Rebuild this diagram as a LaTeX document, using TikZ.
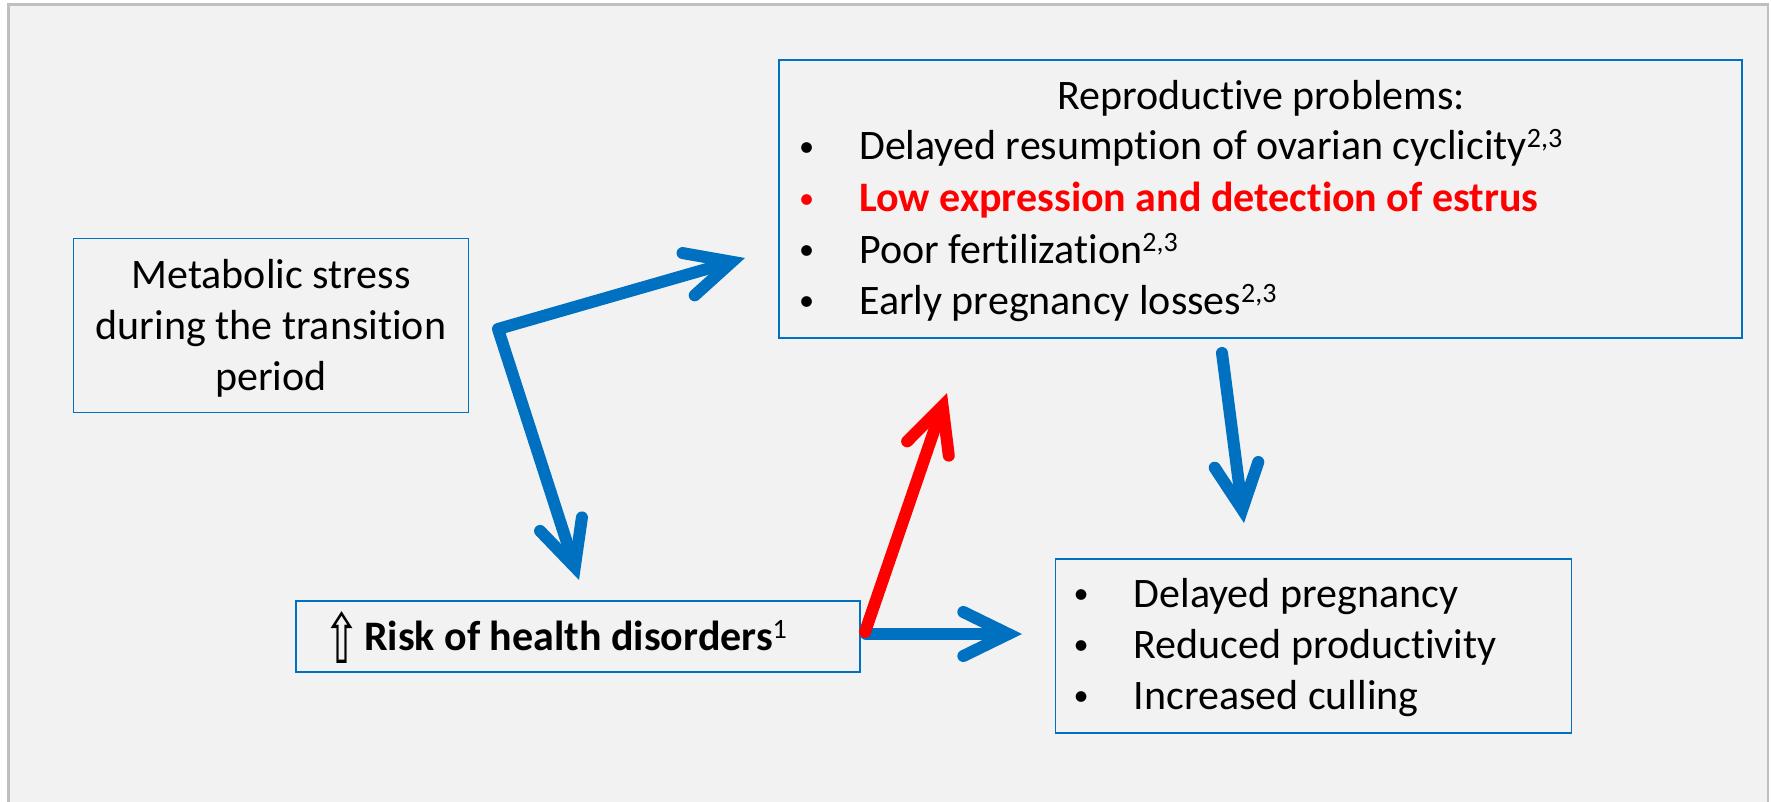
\documentclass[tikz,border=0pt]{standalone}
\usepackage{fontspec}
\setmainfont{Carlito}[Ligatures=NoCommon]
\newfontfamily\symfont{DejaVu Sans}
\usetikzlibrary{arrows.meta}
\definecolor{pblue}{HTML}{0070C0}
\definecolor{pred}{HTML}{FF0000}
\definecolor{pbg}{HTML}{F2F2F2}
\definecolor{pframe}{HTML}{BFBFBF}
\newcommand{\sups}[1]{\raisebox{12pt}{\fontsize{28}{30}\selectfont\mdseries #1}}
\newcommand{\bul}{\makebox[62pt][l]{\hspace{2pt}\raisebox{3.5pt}{\scalebox{0.72}{•}}}}
\begin{document}
\begin{tikzpicture}[x=1pt,y=-1pt,
  box/.style={draw=pblue, line width=1.6pt, fill=pbg, inner sep=0pt, outer sep=0pt, anchor=north west},
  txt/.style={inner sep=0pt, font=\fontsize{42}{51}\selectfont},
  >={Straight Barb[length=45pt,width=44pt,line join=miter,line cap=round]},
  conn/.style={line width=12pt, line cap=round, line join=round, draw=pblue},
]
\useasboundingbox (0,0) rectangle (1771,802);
\fill[white] (0,0) rectangle (1771,802);
\filldraw[fill=pbg, draw=pframe, line width=2.5pt] (8.5,4.5) rectangle (1768,830);

% boxes
\node[box, minimum width=395pt, minimum height=174pt] (meta) at (73.5,238.5) {};
\node[box, minimum width=963pt, minimum height=278pt] (rep) at (779,60) {};
\node[box, minimum width=564pt, minimum height=71pt] (risk) at (296,601) {};
\node[box, minimum width=516pt, minimum height=174pt] (out) at (1055.5,559) {};

% metabolic text
\node[txt, anchor=base] (meta1) at (271,288) {Metabolic stress};
\node[txt, anchor=base] (meta2) at (271,339) {during the transition};
\node[txt, anchor=base] (meta3) at (271,390) {period};

% reproductive text
\node[txt, anchor=base] (rep0) at (1261,110) {Reproductive problems:};
\node[txt, anchor=base west] (rep1) at (797,160) {\bul Delayed resumption of ovarian cyclicity\sups{2,3}};
\node[txt, anchor=base west, text=pred] (rep2) at (797,212) {\bul\bfseries Low expression and detection of estrus};
\node[txt, anchor=base west] (rep3) at (797,263) {\bul Poor fertilization\sups{2,3}};
\node[txt, anchor=base west] (rep4) at (797,314) {\bul Early pregnancy losses\sups{2,3}};

% risk text
\node[txt, anchor=base west] (risk1) at (323,650) {\raisebox{-13pt}{\resizebox*{37pt}{52pt}{\symfont ⇧}}\kern4pt\bfseries Risk of health disorders\sups{1}};

% outcome text
\node[txt, anchor=base west] (out1) at (1071.5,607) {\bul Delayed pregnancy};
\node[txt, anchor=base west] (out2) at (1071.5,658) {\bul Reduced productivity};
\node[txt, anchor=base west] (out3) at (1071.5,709) {\bul Increased culling};

% connector coordinates
\coordinate (elbow) at (498,329);
\coordinate (tipA) at (745,258);
\coordinate (tipB) at (579,580);
\coordinate (redS) at (865,632);
\coordinate (redT) at (947,393);
\coordinate (hS) at (866,634);
\coordinate (hT) at (1022,634);
\coordinate (dS) at (1222,353);
\coordinate (dT) at (1244,523);

\draw[conn, <->] (tipA) -- (elbow) -- (tipB);
\draw[conn, ->] (hS) -- (hT);
\draw[conn, ->, draw=pred] (redS) -- (redT);
\draw[conn, ->] (dS) -- (dT);
\end{tikzpicture}
\end{document}
